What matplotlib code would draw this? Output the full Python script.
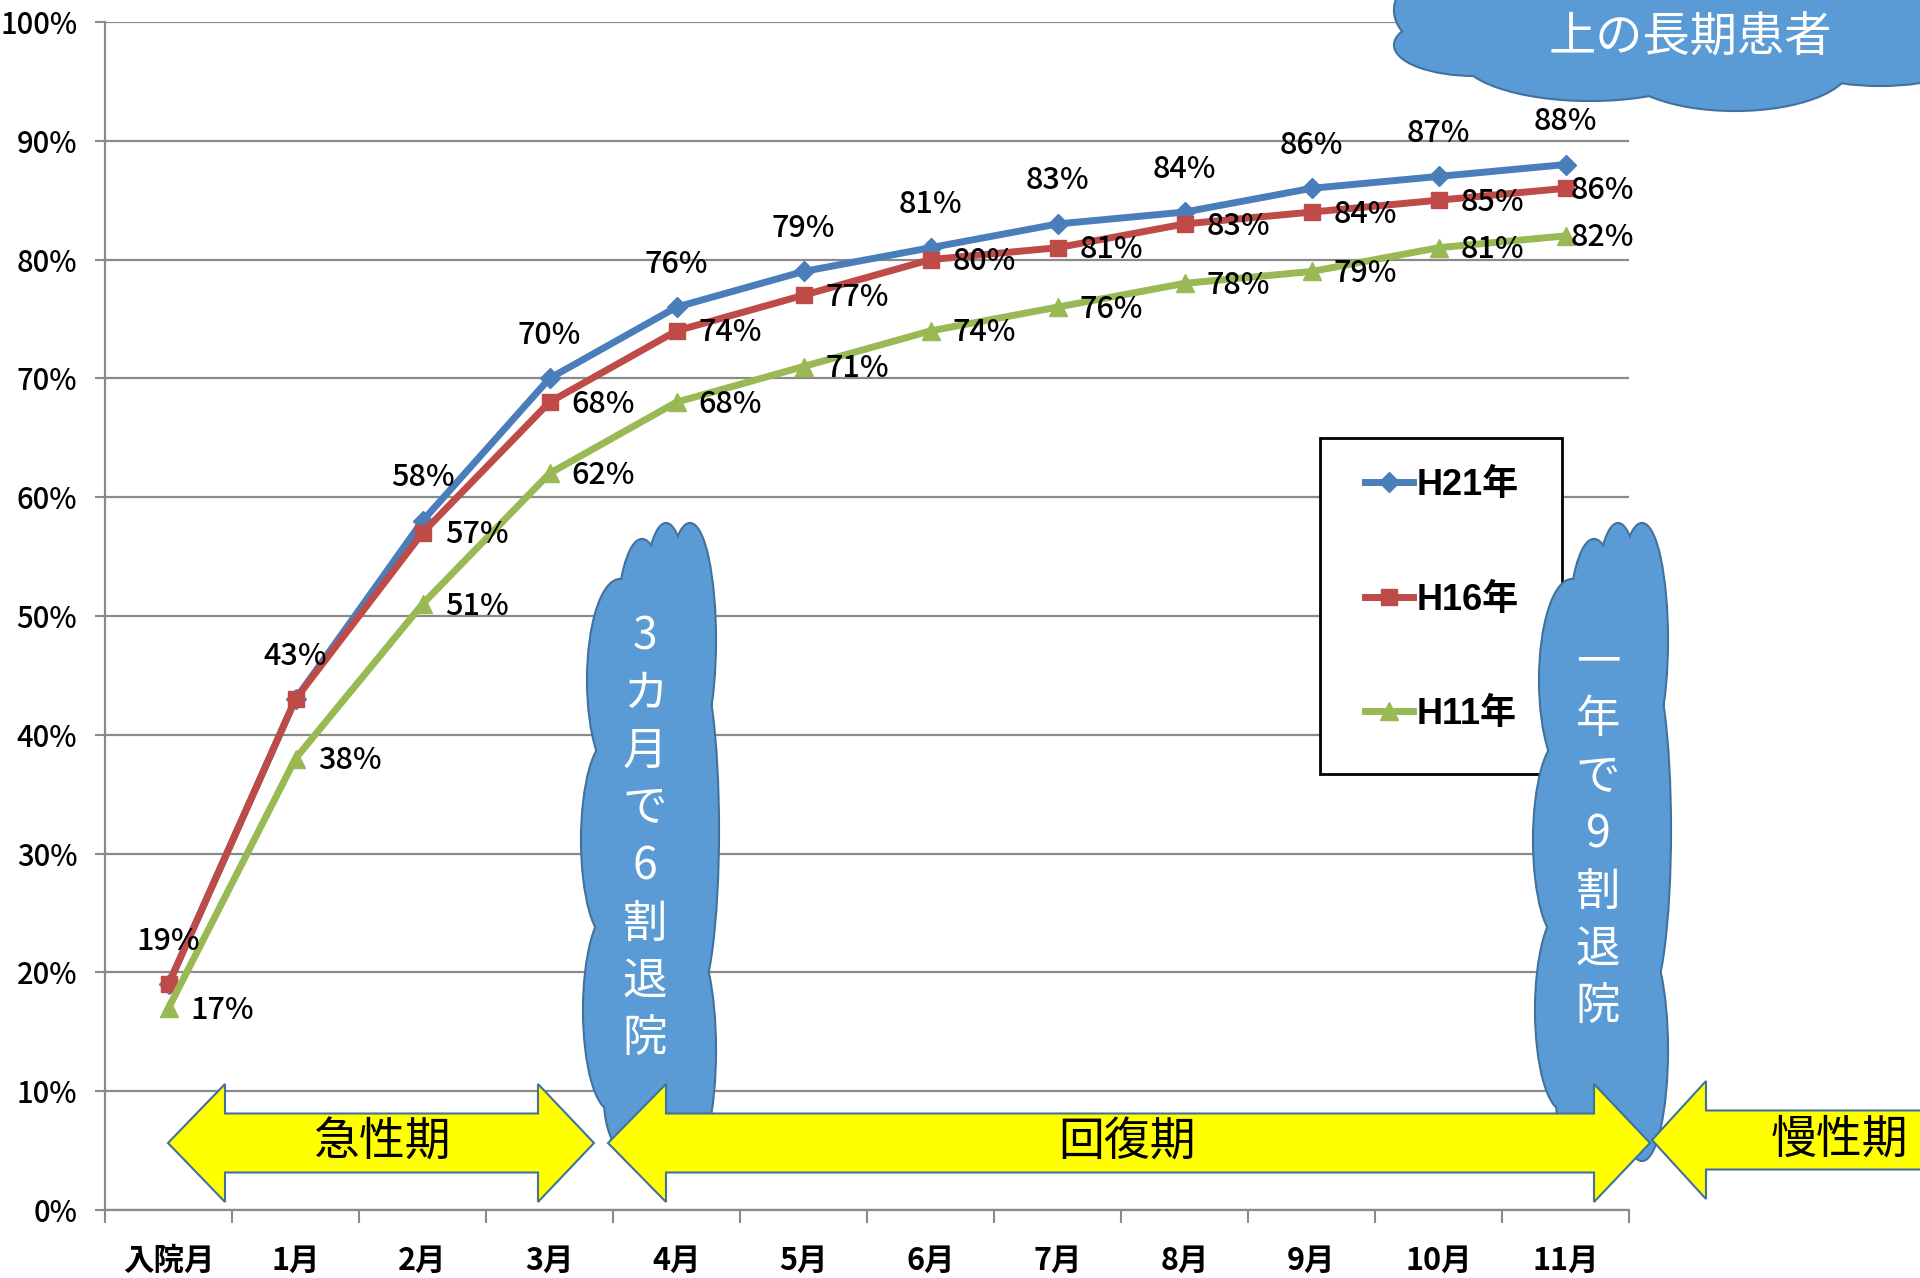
import numpy as np
import matplotlib
matplotlib.use('Agg')
import matplotlib.pyplot as plt
from matplotlib.patches import Ellipse, Polygon, Rectangle
from matplotlib.font_manager import FontProperties

# ---------------- data ----------------
categories = ['入院月', '1月', '2月', '3月', '4月', '5月', '6月', '7月', '8月', '9月', '10月', '11月']
h21 = [19, 43, 58, 70, 76, 79, 81, 83, 84, 86, 87, 88]
h16 = [19, 43, 57, 68, 74, 77, 80, 81, 83, 84, 85, 86]
h11 = [17, 38, 51, 62, 68, 71, 74, 76, 78, 79, 81, 82]
series_names = ['H21年', 'H16年', 'H11年']
y_ticks = [0, 10, 20, 30, 40, 50, 60, 70, 80, 90, 100]
phase_labels = ['急性期', '回復期', '慢性期']
cloud_texts = ['3カ月で6割退院', '一年で9割退院', '上の長期患者']

# ---------------- style ----------------
W, H = 1920, 1278
NUM = ['Noto Sans CJK JP', 'DejaVu Sans']
LEG = ['Liberation Sans', 'Noto Sans CJK JP', 'DejaVu Sans']
CJK = ['Noto Sans CJK JP', 'DejaVu Sans']
plt.rcParams['font.family'] = NUM

C_BLUE, C_RED, C_GREEN = '#4a7ebb', '#be4b48', '#98b954'
CLOUD_FACE, CLOUD_EDGE = '#5b9bd5', '#41719c'
GRID = '#8a8a8a'

fig = plt.figure(figsize=(W / 100, H / 100), dpi=100)
fig.patch.set_facecolor('white')

ax_l, ax_r, ax_t, ax_b = 105, 1629, 22, 1210
ax = fig.add_axes([ax_l / W, (H - ax_b) / H, (ax_r - ax_l) / W, (ax_b - ax_t) / H], zorder=1)

x = np.arange(len(categories))
series = [(h21, C_BLUE, 'D', 10), (h16, C_RED, 's', 12), (h11, C_GREEN, '^', 13)]
handles = []
for (vals, col, mk, ms), name in zip(series, series_names):
    ln, = ax.plot(x, vals, color=col, lw=5, marker=mk, markersize=ms,
                  markerfacecolor=col, markeredgecolor=col, zorder=3, label=name,
                  clip_on=False)
    handles.append(ln)

# data labels
lab_font = dict(family=NUM, size=22, color='black', fontweight='medium')
for i, v in enumerate(h21):
    ax.annotate(f'{v}%', (x[i], v), xytext=(0, 31), textcoords='offset points',
                ha='center', va='center', zorder=6, **lab_font)
for vals, other in ((h16, h21), (h11, None)):
    for i, v in enumerate(vals):
        if other is not None and other[i] == v:
            continue
        dx = 16 if i < len(vals) - 1 else 4
        ax.annotate(f'{v}%', (x[i], v), xytext=(dx, -1.5), textcoords='offset points',
                    ha='left', va='center', zorder=6, **lab_font)

ax.set_xlim(-0.5, len(categories) - 0.5)
ax.set_ylim(0, 100)
ax.set_yticks(y_ticks)
ax.set_yticklabels([f'{t}%' for t in y_ticks], fontsize=21, family=NUM, fontweight='medium')
ax.set_xticks(np.arange(-0.5, len(categories), 1))
ax.set_xticklabels([''] * (len(categories) + 1))
ax.set_xticks(x, minor=True)
ax.set_xticklabels(categories, minor=True, fontsize=22, fontweight='bold', family=NUM)
ax.tick_params(axis='x', which='major', length=9, width=1.5, color=GRID, direction='out')
ax.tick_params(axis='x', which='minor', length=0, pad=25)
ax.tick_params(axis='y', length=7, width=1.5, color=GRID, direction='out', pad=13)
ax.yaxis.grid(True, color=GRID, lw=1.6)
ax.set_axisbelow(True)
for s in ('top', 'right'):
    ax.spines[s].set_visible(False)
for s in ('left', 'bottom'):
    ax.spines[s].set_color(GRID)
    ax.spines[s].set_linewidth(1.6)

# legend box + legend
lb_l, lb_r, lb_t, lb_b = 1320, 1562, 438, 774
ax.add_patch(Rectangle((lb_l / W, (H - lb_b) / H), (lb_r - lb_l) / W, (lb_b - lb_t) / H,
                       transform=fig.transFigure, facecolor='white', edgecolor='black',
                       lw=2, zorder=4, clip_on=False))
leg = ax.legend(handles=handles, loc='center', bbox_to_anchor=(1442 / W, (H - 600) / H),
                bbox_transform=fig.transFigure, frameon=False,
                prop=FontProperties(family=LEG, weight='bold', size=26),
                labelspacing=2.2, handlelength=1.35, handletextpad=0.1, borderpad=0)
leg.set_zorder(5)

# ---------------- overlay (pixel coordinates) ----------------
ov = fig.add_axes([0, 0, 1, 1], zorder=10)
ov.set_xlim(0, W)
ov.set_ylim(H, 0)
ov.axis('off')
ov.patch.set_alpha(0)


def cloud(ells, z=2):
    for (cx, cy, w, h) in ells:
        ov.add_patch(Ellipse((cx, cy), w, h, facecolor=CLOUD_FACE, edgecolor=CLOUD_EDGE,
                             lw=3, zorder=z))
    for (cx, cy, w, h) in ells:
        ov.add_patch(Ellipse((cx, cy), w, h, facecolor=CLOUD_FACE, edgecolor='none',
                             lw=0, zorder=z + 0.1))


v_cloud = [(620, 680, 64, 200), (642, 640, 50, 200), (666, 640, 48, 232),
           (690, 640, 50, 232), (695, 830, 46, 340), (610, 840, 56, 200),
           (650, 850, 110, 500), (612, 1010, 56, 200), (690, 1050, 50, 220),
           (650, 1100, 90, 140)]
cloud(v_cloud)
shift = 952
cloud([(cx + shift, cy, w, h) for (cx, cy, w, h) in v_cloud])
top_cloud = [(1450, 10, 110, 80), (1475, 45, 160, 60), (1590, 55, 260, 90),
             (1735, 65, 230, 90), (1880, 50, 200, 70), (1700, 0, 600, 110)]
cloud(top_cloud)

for tx, text, y0 in ((645, cloud_texts[0], 636), (645 + shift + 1, cloud_texts[1], 662)):
    for i, ch in enumerate(text):
        ov.text(tx, y0 + i * 57.5, ch, color='white', fontsize=32, family=CJK,
                ha='center', va='center', zorder=3)
ov.text(1690, 38, cloud_texts[2], color='white', fontsize=34, family=CJK,
        ha='center', va='center', zorder=3)


def double_arrow(tipL, baseL, baseR, tipR, cy=1143, sh=29.5, hh=59):
    pts = [(tipL, cy), (baseL, cy - hh), (baseL, cy - sh), (baseR, cy - sh), (baseR, cy - hh),
           (tipR, cy), (baseR, cy + hh), (baseR, cy + sh), (baseL, cy + sh), (baseL, cy + hh)]
    ov.add_patch(Polygon(pts, closed=True, facecolor='#ffff00', edgecolor=CLOUD_EDGE,
                         lw=1.5, zorder=5))


double_arrow(168, 225, 538, 594)
double_arrow(608, 666, 1594, 1650)
double_arrow(1652, 1706, 1990, 2050, cy=1140)
for (tx, ty), lab in zip(((382, 1141), (1127, 1141), (1840, 1139)), phase_labels):
    ov.text(tx, ty, lab, fontsize=33, family=CJK, color='black', ha='center', va='center', zorder=6)

fig.savefig('out.png', dpi=100, facecolor='white')
